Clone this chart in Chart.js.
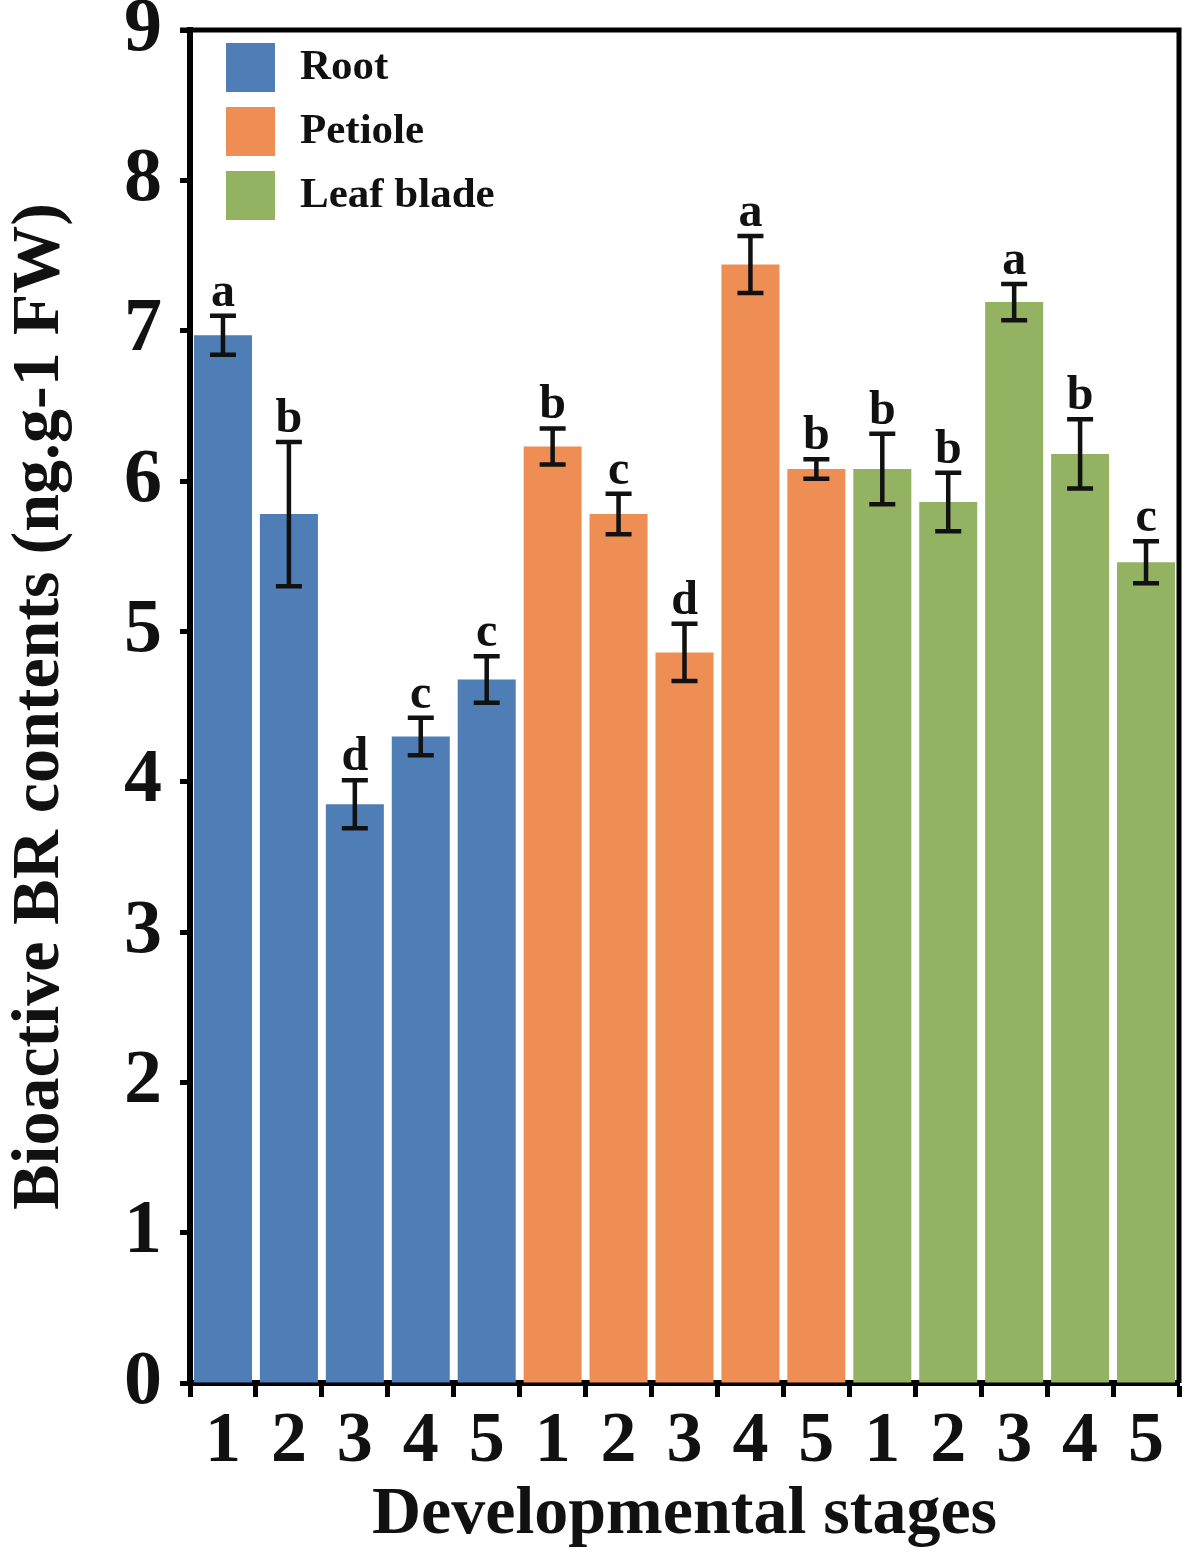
<!DOCTYPE html>
<html>
<head>
<meta charset="utf-8">
<script src="https://cdn.jsdelivr.net/npm/chart.js@4.4.0/dist/chart.umd.min.js"></script>
<style>
  html, body { margin: 0; padding: 0; background: #fff; }
  #wrap { width: 1199px; height: 1558px; }
</style>
</head>
<body>
<div id="wrap"><canvas id="BRChart"></canvas></div>
<script>
var stages = ["1", "2", "3", "4", "5", "1", "2", "3", "4", "5", "1", "2", "3", "4", "5"];
var yTicks = [0, 1, 2, 3, 4, 5, 6, 7, 8, 9];

var rootValues = [6.97, 5.78, 3.85, 4.30, 4.68];
var petioleValues = [6.23, 5.78, 4.86, 7.44, 6.08];
var leafValues = [6.08, 5.86, 7.19, 6.18, 5.46];

var rootErrors = [0.13, 0.48, 0.16, 0.125, 0.155];
var petioleErrors = [0.12, 0.135, 0.19, 0.19, 0.065];
var leafErrors = [0.235, 0.195, 0.12, 0.23, 0.14];

var rootLetters = ["a", "b", "d", "c", "c"];
var petioleLetters = ["b", "c", "d", "a", "b"];
var leafLetters = ["b", "b", "a", "b", "c"];

var serif = "'Liberation Serif', 'Times New Roman', serif";

// each tissue occupies its own 5 slots of the 15 categories
function spread(values, group) {
    var out = [];
    for (var i = 0; i < 15; i++) out.push(null);
    for (var j = 0; j < values.length; j++) out[group * 5 + j] = values[j];
    return out;
}

var errorBars = {
    id: 'errorBars',
    afterDatasetsDraw: function (chart) {
        var ctx = chart.ctx;
        var y = chart.scales.y;
        ctx.save();
        ctx.strokeStyle = '#111';
        ctx.lineWidth = 4.5;
        ctx.fillStyle = '#111';
        ctx.font = "bold 48px " + serif;
        ctx.textAlign = 'center';
        ctx.textBaseline = 'alphabetic';
        chart.data.datasets.forEach(function (ds, di) {
            var meta = chart.getDatasetMeta(di);
            ds.data.forEach(function (v, i) {
                if (v === null) return;
                var k = i - di * 5;
                var x = meta.data[i].x;
                var hi = y.getPixelForValue(v + ds.errors[k]);
                var lo = y.getPixelForValue(v - ds.errors[k]);
                ctx.beginPath();
                ctx.moveTo(x, hi); ctx.lineTo(x, lo);
                ctx.moveTo(x - 13, hi); ctx.lineTo(x + 13, hi);
                ctx.moveTo(x - 13, lo); ctx.lineTo(x + 13, lo);
                ctx.stroke();
                ctx.fillText(ds.letters[k], x, hi - 10);
            });
        });
        ctx.restore();
    }
};

var frameAndLegend = {
    id: 'frameAndLegend',
    afterDraw: function (chart) {
        var ctx = chart.ctx;
        var a = chart.chartArea;
        ctx.save();
        ctx.strokeStyle = '#000';
        ctx.lineWidth = 5;
        ctx.beginPath();
        ctx.moveTo(a.left - 10, a.top);
        ctx.lineTo(a.right, a.top);
        ctx.lineTo(a.right, a.bottom);
        ctx.stroke();
        ctx.font = "bold 43px " + serif;
        ctx.textBaseline = 'middle';
        ctx.textAlign = 'left';
        chart.data.datasets.forEach(function (ds, i) {
            var top = a.top + 13 + i * 64;
            ctx.fillStyle = ds.backgroundColor;
            ctx.fillRect(a.left + 36, top, 49, 49);
            ctx.fillStyle = '#111';
            ctx.fillText(ds.label, a.left + 110, top + 25);
        });
        ctx.restore();
    }
};

function createChart(canvasObj) {
    return new Chart(canvasObj, {
        type: 'bar',
        data: {
            labels: stages,
            datasets: [
                { label: 'Root', data: spread(rootValues, 0), errors: rootErrors, letters: rootLetters, backgroundColor: '#4f7db5' },
                { label: 'Petiole', data: spread(petioleValues, 1), errors: petioleErrors, letters: petioleLetters, backgroundColor: '#ee8e54' },
                { label: 'Leaf blade', data: spread(leafValues, 2), errors: leafErrors, letters: leafLetters, backgroundColor: '#93b363' }
            ]
        },
        options: {
            responsive: true,
            maintainAspectRatio: false,
            animation: false,
            layout: { padding: { top: 30, right: 20, bottom: 0, left: 0 } },
            datasets: { bar: { barPercentage: 0.88, categoryPercentage: 1.0, skipNull: true } },
            plugins: { legend: { display: false }, tooltip: { enabled: false } },
            scales: {
                x: {
                    stacked: true,
                    grid: { offset: true, drawOnChartArea: false, tickLength: 14, tickWidth: 5, tickColor: '#000' },
                    border: { color: '#000', width: 6 },
                    ticks: { color: '#111', font: { family: serif, size: 72, weight: 'bold' }, padding: 2 },
                    title: { display: true, text: 'Developmental stages', color: '#111', font: { family: serif, size: 68, weight: 'bold' }, padding: { top: 0, bottom: 2 } },
                    afterFit: function (scale) { scale.height = 175; scale.paddingLeft = 0; scale.paddingRight = 0; }
                },
                y: {
                    min: 0,
                    max: 9,
                    afterBuildTicks: function (scale) {
                        scale.ticks = yTicks.map(function (v) { return { value: v }; });
                    },
                    grid: { drawOnChartArea: false, tickLength: 10, tickWidth: 5, tickColor: '#000' },
                    border: { color: '#000', width: 6 },
                    ticks: { color: '#111', font: { family: serif, size: 76, weight: 'bold' }, padding: 18 },
                    title: { display: true, text: 'Bioactive BR contents (ng.g-1 FW)', color: '#111', font: { family: serif, size: 68, weight: 'bold' }, padding: { top: 0, bottom: 0 } },
                    afterFit: function (scale) { scale.width = 190; scale.paddingTop = 0; scale.paddingBottom = 0; }
                }
            }
        },
        plugins: [errorBars, frameAndLegend]
    });
}

window.onload = function () {
    this.BRChart = createChart(document.getElementById('BRChart').getContext('2d'));
};
</script>
</body>
</html>
